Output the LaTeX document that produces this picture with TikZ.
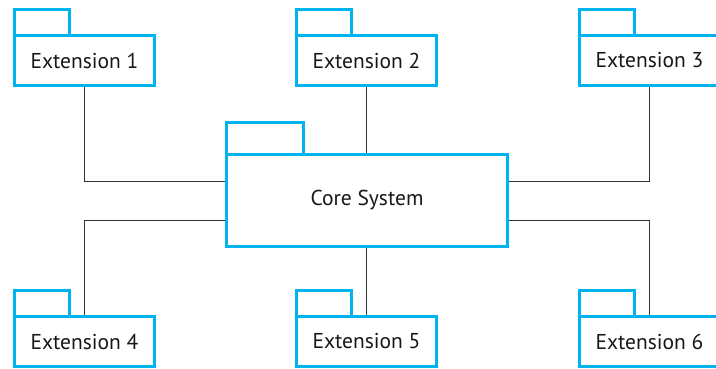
\documentclass[tikz,border=0pt]{standalone}
\usepackage{fontspec}
\setmainfont{PT Sans}
\usetikzlibrary{backgrounds}
\definecolor{pkgblue}{HTML}{00B4EF}
\definecolor{linegray}{HTML}{333333}
\definecolor{textgray}{HTML}{1A1718}
\begin{document}
\begin{tikzpicture}[x=1pt,y=-1pt,
  pkgbody/.style={draw=pkgblue,line width=3pt,fill=white,minimum width=140pt,minimum height=50pt,inner sep=0pt,outer sep=0pt,font=\fontsize{21.5}{24}\selectfont,text=textgray},
  corebody/.style={pkgbody,minimum width=281pt,minimum height=92pt},
  pkgtab/.style={draw=pkgblue,line width=3pt,fill=white,minimum width=55pt,minimum height=26pt,inner sep=0pt,outer sep=0pt,anchor=south west},
  coretab/.style={pkgtab,minimum width=77pt,minimum height=32pt},
  conn/.style={draw=linegray,line width=1pt}]
\useasboundingbox (0,0) rectangle (716,369);
% bodies
\node[pkgbody] (e1) at (84.5,60.5) {Extension 1};
\node[pkgbody] (e2) at (366.5,60.5) {Extension 2};
\node[pkgbody] (e3) at (649.5,60.5) {Extension 3};
\node[pkgbody] (e4) at (84.5,341.5) {Extension 4};
\node[pkgbody] (e5) at (366.5,341.5) {Extension 5};
\node[pkgbody] (e6) at (649.5,341.5) {Extension 6};
\node[corebody] (core) at (367,200.5) {\raisebox{-2pt}{Core System}};
% tabs
\node[pkgtab] (t1) at (e1.north west) {};
\node[pkgtab] (t2) at (e2.north west) {};
\node[pkgtab] (t3) at (e3.north west) {};
\node[pkgtab] (t4) at (e4.north west) {};
\node[pkgtab] (t5) at (e5.north west) {};
\node[pkgtab] (t6) at (e6.north west) {};
\node[coretab] (tc) at (core.north west) {};
% connectors
\coordinate (cl1) at ([yshift=-26.5pt]core.north west);
\coordinate (cl2) at ([yshift=26pt]core.south west);
\coordinate (cr1) at ([yshift=-26.5pt]core.north east);
\coordinate (cr2) at ([yshift=26pt]core.south east);
\begin{pgfonlayer}{background}
\path[conn] (e1.south) |- (cl1);
\path[conn] (e4.north) |- (cl2);
\path[conn] (e3.south) |- (cr1);
\path[conn] (e6.north) |- (cr2);
\path[conn] (e2.south) -- (e2.south|-core.north);
\path[conn] (e5.north) -- (e5.north|-core.south);
\end{pgfonlayer}
\end{tikzpicture}
\end{document}
